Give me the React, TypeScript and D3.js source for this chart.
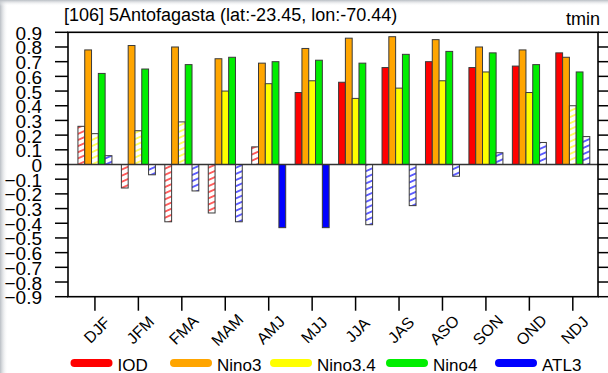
import React from "react";
import * as d3 from "d3";

const seasons = ["DJF","JFM","FMA","MAM","AMJ","MJJ","JJA","JAS","ASO","SON","OND","NDJ"];
const seriesNames = ["IOD","Nino3","Nino3.4","Nino4","ATL3"];
const seriesColors = ["#ff0000","#ffa500","#ffff00","#00ee00","#0000ff"];

const iod    = [0.26,-0.16,-0.39,-0.33,0.12,0.49,0.56,0.66,0.70,0.66,0.67,0.76];
const nino3  = [0.78,0.81,0.80,0.72,0.69,0.79,0.86,0.87,0.85,0.80,0.78,0.73];
const nino34 = [0.21,0.23,0.29,0.50,0.55,0.57,0.45,0.52,0.57,0.63,0.49,0.40];
const nino4  = [0.62,0.65,0.68,0.73,0.70,0.71,0.69,0.75,0.77,0.76,0.68,0.63];
const atl3   = [0.06,-0.07,-0.18,-0.39,-0.43,-0.43,-0.41,-0.28,-0.08,0.08,0.15,0.19];

// 1 = significant (solid), 0 = not significant (hatched)
const iodSig    = [0,0,0,0,0,1,1,1,1,1,1,1];
const nino3Sig  = [1,1,1,1,1,1,1,1,1,1,1,1];
const nino34Sig = [0,0,0,1,1,1,1,1,1,1,1,0];
const nino4Sig  = [1,1,1,1,1,1,1,1,1,1,1,1];
const atl3Sig   = [0,0,0,0,1,1,0,0,0,0,0,0];

const yTicks = [-0.9,-0.8,-0.7,-0.6,-0.5,-0.4,-0.3,-0.2,-0.1,0,0.1,0.2,0.3,0.4,0.5,0.6,0.7,0.8,0.9];
const titleText = "[106] 5Antofagasta (lat:-23.45, lon:-70.44)";
const varText = "tmin";

const W = 608, H = 373;
const L = 68, R = 598, T = 32.3, B = 296.7;
const FONT = "'Liberation Sans', Arial, Helvetica, sans-serif";

export default function App() {
  const values = [iod, nino3, nino34, nino4, atl3];
  const sigs = [iodSig, nino3Sig, nino34Sig, nino4Sig, atl3Sig];
  const x = d3.scaleLinear().domain([-0.62, seasons.length - 0.42]).range([L, R]);
  const y = d3.scaleLinear().domain([-0.9, 0.9]).range([B, T]);
  const bw = 6.8;
  const legendX = [70.5, 170, 270, 386, 495];

  const fmt = (v: number) => (Math.abs(v) < 1e-9 ? "0" : d3.format(".1f")(v));

  return (
    <svg width={W} height={H} style={{ position: "absolute", left: 0, top: 0, background: "#fff" }} fontFamily={FONT}>
      <defs>
        {seriesColors.map((c, i) => (
          <pattern key={i} id={`hatch${i}`} patternUnits="userSpaceOnUse" width={20} height={5.6} patternTransform="rotate(-24)">
            <rect width={20} height={5.6} fill="#fff" />
            <line x1={0} x2={20} y1={2.8} y2={2.8} stroke={c} strokeWidth={1.2} />
          </pattern>
        ))}
        <linearGradient id="shadeL" x1="0" x2="1" y1="0" y2="0">
          <stop offset="0" stopColor="#b9bec4" />
          <stop offset="1" stopColor="#ffffff" stopOpacity={0} />
        </linearGradient>
        <linearGradient id="shadeT" x1="0" x2="0" y1="0" y2="1">
          <stop offset="0" stopColor="#b9bec4" />
          <stop offset="1" stopColor="#ffffff" stopOpacity={0} />
        </linearGradient>
      </defs>
      <rect x={0} y={0} width={W} height={H} fill="#fff" />
      <rect x={0} y={0} width={8} height={H} fill="url(#shadeL)" />
      <rect x={0} y={0} width={W} height={6} fill="url(#shadeT)" />

      {/* title */}
      <text x={64} y={21} fontSize={18} fill="#000">{titleText}</text>
      <text x={600} y={25} fontSize={18} textAnchor="end" fill="#000">{varText}</text>

      {/* bars */}
      {values.map((vals, k) =>
        vals.map((v, i) => {
          const x0 = x(i) + (k - 2.5) * bw;
          const y0 = Math.min(y(v), y(0));
          const h = Math.abs(y(v) - y(0));
          const solid = sigs[k][i] === 1;
          return (
            <rect key={`${k}-${i}`} x={x0} y={y0} width={bw} height={h}
              fill={solid ? seriesColors[k] : `url(#hatch${k})`}
              stroke="#3a3a3a" strokeWidth={1} />
          );
        })
      )}

      {/* zero line */}
      <line x1={L} x2={R} y1={y(0)} y2={y(0)} stroke="#333" strokeWidth={1.5} />

      {/* frame */}
      <rect x={L} y={T} width={R - L} height={B - T} fill="none" stroke="#000" strokeWidth={1.6} />

      {/* y ticks */}
      {yTicks.map((t) => (
        <g key={t}>
          <line x1={55} x2={L} y1={y(t)} y2={y(t)} stroke="#000" strokeWidth={1.5} />
          <line x1={R} x2={610} y1={y(t)} y2={y(t)} stroke="#000" strokeWidth={1.5} />
          <text x={42} y={y(t) + 1} fontSize={19} textAnchor="end" dominantBaseline="central" fill="#000">{fmt(t)}</text>
        </g>
      ))}

      {/* x ticks */}
      {seasons.map((s, i) => (
        <g key={s}>
          <line x1={x(i)} x2={x(i)} y1={B} y2={B + 14} stroke="#000" strokeWidth={1.5} />
          <text transform={`translate(${x(i) + 2},${330}) rotate(-45)`} fontSize={16} textAnchor="middle" dominantBaseline="central" fill="#000">{s}</text>
        </g>
      ))}

      {/* legend */}
      {seriesNames.map((n, k) => (
        <g key={n}>
          <line x1={legendX[k] + 4} x2={legendX[k] + 38} y1={363} y2={363} stroke={seriesColors[k]} strokeWidth={8} strokeLinecap="round" />
          <text x={legendX[k] + 47} y={370.5} fontSize={17} fill="#000">{n}</text>
        </g>
      ))}
    </svg>
  );
}
